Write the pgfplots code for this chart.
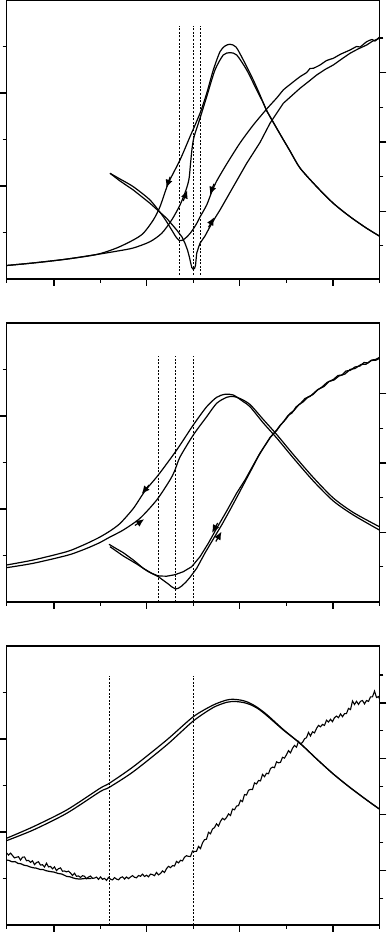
\documentclass[border=0pt]{standalone}
\usepackage{pgfplots}
\pgfplotsset{compat=1.18}
\usetikzlibrary{arrows.meta}
\begin{document}
\begin{tikzpicture}[x=1pt,y=1pt]
\useasboundingbox (0,0) rectangle (193.5,466);
\pgfplotsset{
  panel/.style={
    scale only axis, width=186.5pt, height=139.5pt,
    xmin=6.5, xmax=379.5, ymin=0, ymax=279,
    axis line style={line width=0.6pt},
    every tick/.style={line width=0.6pt, black},
    tick align=outside,
    xtick pos=bottom, ytick pos=left,
    xtick={54,146.5,239.5,333},
    minor xtick={6.5,100.2,193.2,286.5,379.5},
    ytick={93,186}, minor ytick={46.5,139.5,232.5},
    major tick length=3.4pt, minor tick length=2pt,
    xticklabels={}, yticklabels={},
    clip=false,
    cycle list={{black,solid}},
    every axis plot/.append style={no markers, line width=0.6pt, black, solid},
  },
  rightax/.style={
    scale only axis, width=186.5pt, height=139.5pt,
    xmin=0, xmax=1,
    axis x line=none, axis y line*=right,
    axis line style={line width=0.6pt},
    every tick/.style={line width=0.6pt, black},
    tick align=outside,
    major tick length=3.4pt, minor tick length=1.9pt,
    yticklabels={},
  },
  dash/.style={black, line width=0.45pt, dash pattern=on 1pt off 0.8pt},
  arr/.style={black, line width=0.6pt, -{Latex[length=4pt,width=3.6pt]}},
}

% ================= Panel 1 =================
\begin{axis}[panel, at={(3.25pt,326.5pt)}, anchor=south west]
\addplot[dash] coordinates {(179.3,4) (179.3,253)};
\addplot[dash] coordinates {(193.3,4) (193.3,253)};
\addplot[dash] coordinates {(200.3,4) (200.3,253)};
% peak curve, outer
\addplot[black, smooth, tension=0.45] coordinates {
(6.5,13.5) (33,16) (66,19.8) (96.7,24.5) (116.7,31) (133.3,39) (143.3,45.7)
(153.3,59) (160,72.3) (168.3,95.7) (180,119) (190,142.3) (200,165.7)
(206.7,185.7) (213.3,209) (220,227.3) (225,233) (230,234.7) (236,232)
(243.3,219) (253.3,199) (260,184) (266.7,168) (270,162.3) (280,145)
(290,128) (300,111) (316.7,92.3) (333.3,75.7) (350,62.3) (366.7,50.7) (379.3,43)};
% peak curve, inner
\addplot[black, smooth, tension=0.45] coordinates {
(6.5,13.5) (33,16) (66,19.8) (96.7,24.5) (116.7,27.8) (133.3,31) (150,37.3)
(161.7,45.7) (171.7,59) (180,74) (186,89) (189,100) (190.5,115) (192,130)
(194,142) (200,160.7) (206.7,182.3) (215,209) (223.3,224) (230,226.3)
(236.7,224) (246.7,209) (256.7,189) (263.3,176) (266.7,168.5) (270,162.5)
(280,145) (290,128) (300,111) (316.7,92.3) (333.3,75.7) (350,62.3) (366.7,50.7) (379.3,43)};
% dispersion-like curve with smooth minimum
\addplot[black, smooth, tension=0.4] coordinates {
(110,105.7) (120,100) (133.3,92.3) (150,79) (163.3,62.3) (171.7,49) (176,42)
(179.3,38.5) (183,39) (186.7,42) (190,45.5) (193.3,50) (196.7,55.5) (200,62)
(206.7,74) (211.7,87) (216.7,98) (226.7,115) (240,136) (253.3,154) (266.7,170)
(276.7,181) (283.3,189) (290,194.5) (300,202.3) (306.7,206.5) (310,210.5)
(313.3,210.7) (320,214) (326.7,218.5) (333.3,220.7) (340,224.5) (350,229)
(356.7,232.5) (360,232) (366.7,237.3) (372,239.5) (375,238) (379.3,241.7)};
% dispersion-like curve with cusp
\addplot[black] coordinates {
(110,105.7) (120,98) (133.3,89) (150,75.7) (166.7,60.7) (176.7,49) (182,42)
(185,35.7) (187.5,29) (189.3,22.3) (190.7,16) (191.8,11.5) (193,10) (194.5,10.5)
(195.5,13.5) (196.7,25.7) (198.5,31.5) (200,35.7) (205,43) (210,52.3) (215,61)
(220,69) (233.3,92.3) (246.7,115.7) (260,136.5) (270,155.7) (283.3,175.7)
(300,190.7) (308,197) (316.7,204) (325,209.5) (333.3,214) (341,219.5)
(350,225.7) (358,230) (366.7,234) (372,237.5) (379.3,240.7)};
% sweep arrows
\addplot[arr] coordinates {(170.2,102.2) (166.3,91.3)};
\addplot[arr] coordinates {(183.2,78) (187.3,88.6)};
\addplot[arr] coordinates {(214,95.2) (209.9,84.3)};
\addplot[arr] coordinates {(208.5,51.7) (214.2,61.7)};
\end{axis}
\begin{axis}[rightax, at={(3.25pt,326.5pt)}, anchor=south west,
  ymin=0.04, ymax=8.1, ytick={2,4,6}, minor ytick={1,3,5,7}]
\end{axis}

% ================= Panel 2 =================
\begin{axis}[panel, at={(3.25pt,165pt)}, anchor=south west]
\addplot[dash] coordinates {(158.3,0) (158.3,246)};
\addplot[dash] coordinates {(175.7,0) (175.7,246)};
\addplot[dash] coordinates {(193.5,0) (193.5,246)};
% peak curve A
\addplot[black, smooth, tension=0.45] coordinates {
(6.5,37) (33.3,42) (66.7,50.3) (80,55.5) (90,60) (100,65) (110,71) (120,78.5)
(133.3,93.5) (145,111) (158.3,127) (176.7,152) (193.3,177) (206.7,195.3)
(216.7,204.7) (225,207.7) (233.3,207) (243.3,200.3) (250,195.3) (263.3,179)
(276.7,164) (293.3,144) (313.3,121) (333.3,101) (353.3,87) (379.3,72)};
% peak curve B
\addplot[black, smooth, tension=0.45] coordinates {
(6.5,34.3) (33.3,38.7) (66.7,46.5) (80,51) (90,55) (100,59.5) (110,65)
(123.3,72) (140,83.7) (156.7,102) (170,122) (175,132) (180,145) (193.3,167)
(206.7,185.3) (216.7,198.7) (226.7,204.7) (233.3,205.5) (240,203.5)
(250,197.5) (263.3,182.5) (276.7,167.5) (293.3,147.5) (313.3,124.5)
(333.3,104) (353.3,89.5) (379.3,75.3)};
% dispersion-like curve, flat minimum
\addplot[black] coordinates {
(109,57.7) (116,53.5) (123.3,49.3) (133.3,42) (143.3,33.7) (151.7,28.7)
(158.3,26) (166.7,25.8) (175,27.3) (183.3,30.3) (191.7,35.3) (200,45.3)
(208.3,58.7) (216.7,73.7) (226.7,91) (236.7,109) (245,122) (250,131)
(255,140) (260,149) (266.7,159) (271,165.5) (276.7,172) (280,176.5)
(283.3,180) (288,186.5) (292,189) (296,195) (300,198) (305,203.5)
(310,205.5) (316.7,211.5) (322,215) (327,219.5) (333.3,222.5) (338,226.5)
(342,227) (346,231) (350,231.5) (355,235) (360,236) (364,239.5) (368,239)
(372,242) (375.5,242.5) (379.3,244.5)};
% dispersion-like curve, cusp
\addplot[black] coordinates {
(110,55.3) (123.3,46) (136.7,38) (148.3,30.3) (158.3,25.3) (168.3,18)
(172,15) (175.7,13) (178.5,13.8) (181.7,16) (186,20) (190,24.7) (196.7,33.7)
(205,49) (213.3,63) (221.7,77) (230,92) (238.3,107.5) (246.7,123.5)
(252,133.5) (258,145) (264,155) (270,164.5) (276.7,171.5) (281,177.5)
(286,183) (290,188.5) (294,191.5) (299,197.5) (303,200) (308,205)
(313,207.5) (318,212.5) (324,215.5) (329,220.5) (334,222) (339,226)
(345,228) (350,232.5) (355,233.5) (361,237.5) (366,237.8) (371,241.5)
(376,241.8) (379.3,243.5)};
\addplot[arr] coordinates {(149,117) (141.8,108.1)};
\addplot[arr] coordinates {(134.9,76.5) (144.1,82.8)};
\addplot[arr] coordinates {(217.7,79) (212,69.2)};
\addplot[arr] coordinates {(215.8,60.5) (221.5,70.3)};
\end{axis}
\begin{axis}[rightax, at={(3.25pt,165pt)}, anchor=south west,
  ymin=-0.02, ymax=8.05, ytick={2,4,6}, minor ytick={1,3,5}]
\end{axis}

% ================= Panel 3 =================
\begin{axis}[panel, at={(3.25pt,3.5pt)}, anchor=south west]
\addplot[dash] coordinates {(109.3,0) (109.3,249)};
\addplot[dash] coordinates {(193.3,0) (193.3,249)};
% peak curves
\addplot[black, smooth, tension=0.45] coordinates {
(6.5,86.7) (33.3,98.3) (66.7,115) (100,136.7) (109.3,141.7) (133.3,158.3)
(166.7,185) (193.3,208.3) (213.3,220) (226.7,225) (233.3,225.7) (240,225)
(246.7,223.3) (256,218.5) (266.7,210.5) (283.3,195.5) (300,181.7)
(316.7,166) (333.3,151) (350,137.5) (366.7,125) (379.3,116)};
\addplot[black, smooth, tension=0.45] coordinates {
(6.5,84.3) (33.3,95) (66.7,111.7) (100,133.3) (109.3,137.7) (133.3,153.3)
(166.7,180) (193.3,204) (213.3,217.5) (226.7,222.7) (235,223.5)
(243.3,222.5) (250,220.5) (258,216.3) (266.7,209.5) (283.3,195)
(300,181.7) (316.7,166) (333.3,151) (350,137.5) (366.7,125) (379.3,116)};
% noisy trace, second branch (left)
\addplot[black] coordinates {
(6.5,65) (9,64.6) (12,63.2) (15,63.4) (18,61.6) (21,61.2) (24,59.8) (27,59.3)
(30,58.1) (33.3,57.2) (36,56.9) (40,55.6) (43,55.5) (46,54.3) (50,53.5)
(54,52.9) (58,51.6) (62,50.9) (66.7,48.6) (70,48.2) (73,47.1) (76,46.3)
(80,45.9) (84,46.4) (88,46.6) (91.5,46.4)};
% noisy trace
\addplot[black, line width=0.55pt] coordinates {
(6.5,72.2) (8.5,70.0) (10.5,71.9) (12.5,69.5) (14.5,67.1) (16.5,67.8)
(18.5,68.3) (20.5,64.9) (22.5,67.8) (24.5,68.0) (26.5,64.3) (28.5,64.6)
(30.5,62.6) (32.5,64.2) (34.5,60.4) (36.5,62.5) (38.5,63.2) (40.5,59.9)
(42.5,60.3) (44.5,58.0) (46.5,61.8) (48.5,58.1) (50.5,58.6) (52.5,56.2)
(54.5,58.2) (56.5,54.3) (58.5,56.3) (60.5,57.1) (62.5,53.8) (64.5,54.0)
(66.5,53.1) (68.5,53.9) (70.5,52.0) (72.5,49.5) (74.5,51.8) (76.5,48.7)
(78.5,49.1) (80.5,47.6) (82.5,49.3) (84.5,48.8) (86.5,46.3) (88.5,48.0)
(90.5,49.0) (92.5,46.7) (94.5,46.9) (96.5,47.9) (98.5,45.6) (100.5,48.1)
(102.5,45.7) (104.5,46.6) (106.5,44.6) (108.5,47.6) (110.5,45.8) (112.5,45.1)
(114.5,47.4) (116.5,45.9) (118.5,45.2) (120.5,47.3) (122.5,48.2) (124.5,46.0)
(126.5,48.0) (128.5,46.4) (130.5,48.0) (132.5,49.4) (134.5,47.7) (136.5,47.2)
(138.5,49.5) (140.5,48.7) (142.5,50.9) (144.5,48.5) (146.5,49.8) (148.5,48.2)
(150.5,50.9) (152.5,50.4) (154.5,49.3) (156.5,52.6) (158.5,50.1) (160.5,51.5)
(162.5,54.1) (164.5,52.5) (166.5,56.4) (168.5,58.7) (170.5,57.4) (172.5,59.4)
(174.5,59.0) (176.5,63.6) (178.5,62.1) (180.5,64.7) (182.5,64.1) (184.5,67.8)
(186.5,69.3) (188.5,68.6) (190.5,68.5) (192.5,74.0) (194.5,73.5) (196.5,73.7)
(198.5,78.6) (200.5,76.4) (202.5,82.1) (204.5,85.3) (206.5,85.8) (208.5,92.7)
(210.5,91.2) (212.5,96.0) (214.5,97.4) (216.5,101.2) (218.5,98.9) (220.5,103.7)
(222.5,106.7) (224.5,105.2) (226.5,107.5) (228.5,111.1) (230.5,109.5) (232.5,116.0)
(234.5,115.2) (236.5,118.9) (238.5,119.4) (240.5,124.7) (242.5,123.4) (244.5,130.4)
(246.5,130.0) (248.5,134.7) (250.5,135.6) (252.5,135.5) (254.5,142.1) (256.5,141.0)
(258.5,144.5) (260.5,144.1) (262.5,150.6) (264.5,148.3) (266.5,151.7) (268.5,151.3)
(270.5,156.5) (272.5,157.9) (274.5,157.3) (276.5,163.2) (278.5,162.1) (280.5,162.7)
(282.5,167.7) (284.5,166.9) (286.5,170.3) (288.5,174.4) (290.5,172.1) (292.5,176.7)
(294.5,179.6) (296.5,177.8) (298.5,183.5) (300.5,181.1) (302.5,182.6) (304.5,186.1)
(306.5,187.4) (308.5,192.6) (310.5,189.0) (312.5,193.2) (314.5,192.1) (316.5,196.5)
(318.5,199.6) (320.5,198.2) (322.5,200.6) (324.5,199.6) (326.5,204.8) (328.5,203.0)
(330.5,205.7) (332.5,203.3) (334.5,207.3) (336.5,208.9) (338.5,207.3) (340.5,211.1)
(342.5,208.3) (344.5,211.3) (346.5,211.5) (348.5,216.6) (350.5,215.4) (352.5,224.0)
(354.5,220.5) (356.5,223.7) (358.5,220.6) (360.5,223.7) (362.5,224.5) (364.5,221.1)
(366.5,224.5) (368.5,223.6) (370.5,228.1) (372.5,228.2) (374.5,233.9) (376.5,227.5)
(378.5,228.4) (379.3,226.5)};
\end{axis}
\begin{axis}[rightax, at={(3.25pt,3.5pt)}, anchor=south west,
  ymin=0.04, ymax=10.04, ytick={2,4,6,8}, minor ytick={1,3,5,7,9}]
\end{axis}
\end{tikzpicture}
\end{document}
